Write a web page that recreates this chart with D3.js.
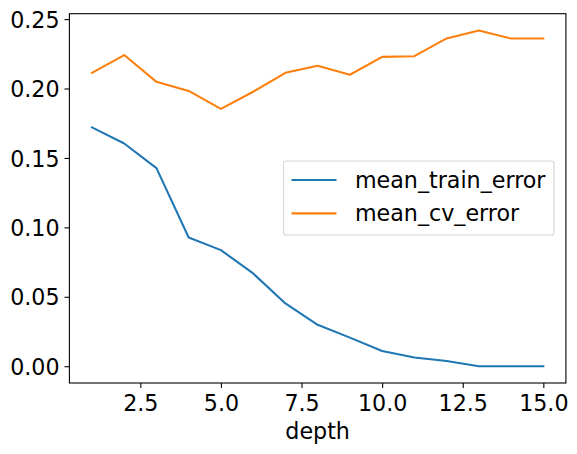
<!DOCTYPE html>
<html lang="en">
  <head>
    <meta charset="UTF-8" />
    <title>Error vs depth</title>
    <script src="https://d3js.org/d3.v7.min.js"></script>
    <style>
      body { margin: 0; background: #fff; }
      svg { display: block; font-family: "DejaVu Sans", sans-serif; }
      .tick text { font-family: "DejaVu Sans", sans-serif; font-size: 22.2px; fill: #000; }
      .tick line { stroke: #000; stroke-width: 1.1; }
    </style>
  </head>
  <body>
    <svg id="canvas"></svg>
  </body>
  <script>
    let depth = [1, 2, 3, 4, 5, 6, 7, 8, 9, 10, 11, 12, 13, 14, 15];
    let meanTrainError = [0.172, 0.1604, 0.1427, 0.0927, 0.0836, 0.0668, 0.0452, 0.0298, 0.0206, 0.011, 0.0063, 0.0038, 0, 0, 0];
    let meanCvError = [0.2113, 0.2241, 0.2048, 0.1983, 0.1854, 0.1977, 0.2113, 0.2164, 0.2099, 0.2228, 0.2233, 0.2361, 0.2418, 0.236, 0.236];
    let seriesNames = ["mean_train_error", "mean_cv_error"];
    let colors = ["#1f77b4", "#ff7f0e"];
    let xTicks = [2.5, 5.0, 7.5, 10.0, 12.5, 15.0];
    let yTicks = [0.0, 0.05, 0.1, 0.15, 0.2, 0.25];

    let width = 577;
    let height = 454;
    let plotLeft = 69.4, plotRight = 565.9, plotTop = 13.7, plotBottom = 383;

    let svg = d3.select("svg").attr("width", width).attr("height", height);

    // matplotlib style 5% margins
    let xMin = d3.min(depth), xMax = d3.max(depth);
    let xPad = (xMax - xMin) * 0.05;
    let allY = meanTrainError.concat(meanCvError);
    let yMin = d3.min(allY), yMax = d3.max(allY);
    let yPad = (yMax - yMin) * 0.05;

    let xScale = d3.scaleLinear().domain([xMin - xPad, xMax + xPad]).range([plotLeft, plotRight]);
    let yScale = d3.scaleLinear().domain([yMin - yPad, yMax + yPad]).range([plotBottom, plotTop]);

    let xAxis = d3.axisBottom(xScale).tickValues(xTicks).tickFormat(d3.format(".1f")).tickSize(4.9).tickPadding(4.9);
    let yAxis = d3.axisLeft(yScale).tickValues(yTicks).tickFormat(d3.format(".2f")).tickSize(4.9).tickPadding(4.9);

    let gx = svg.append("g").attr("transform", "translate(0," + plotBottom + ")").call(xAxis);
    gx.select(".domain").remove();
    gx.selectAll(".tick text").attr("dy", "0.82em");

    let gy = svg.append("g").attr("transform", "translate(" + plotLeft + ",0)").call(yAxis);
    gy.select(".domain").remove();
    gy.selectAll(".tick text").attr("dy", "0.365em");

    let line = d3.line().x((d, i) => xScale(depth[i])).y((d) => yScale(d));

    [meanTrainError, meanCvError].forEach((values, k) => {
      svg.append("path")
        .datum(values)
        .attr("d", line)
        .attr("fill", "none")
        .attr("stroke", colors[k])
        .attr("stroke-width", 2.08)
        .attr("stroke-linejoin", "round")
        .attr("stroke-linecap", "square");
    });

    // axes frame
    svg.append("rect")
      .attr("x", plotLeft).attr("y", plotTop)
      .attr("width", plotRight - plotLeft).attr("height", plotBottom - plotTop)
      .attr("fill", "none").attr("stroke", "#000").attr("stroke-width", 1.1);

    svg.append("text")
      .attr("x", (plotLeft + plotRight) / 2).attr("y", 438.5)
      .attr("text-anchor", "middle")
      .attr("font-size", "22.2px")
      .text("depth");

    // legend
    let legend = svg.append("g");
    legend.append("rect")
      .attr("x", 283.5).attr("y", 161)
      .attr("width", 270.5).attr("height", 74)
      .attr("rx", 2.8)
      .attr("fill", "#fff").attr("fill-opacity", 0.8)
      .attr("stroke", "#d6d6d6").attr("stroke-width", 1.1);

    seriesNames.forEach((name, k) => {
      let yy = 180 + k * 33.4;
      legend.append("line")
        .attr("x1", 291.5).attr("x2", 336.5)
        .attr("y1", yy).attr("y2", yy)
        .attr("stroke", colors[k]).attr("stroke-width", 2.08);
      legend.append("text")
        .attr("x", 355).attr("y", yy + 7.8)
        .attr("font-size", "22.2px")
        .text(name);
    });
  </script>
</html>
